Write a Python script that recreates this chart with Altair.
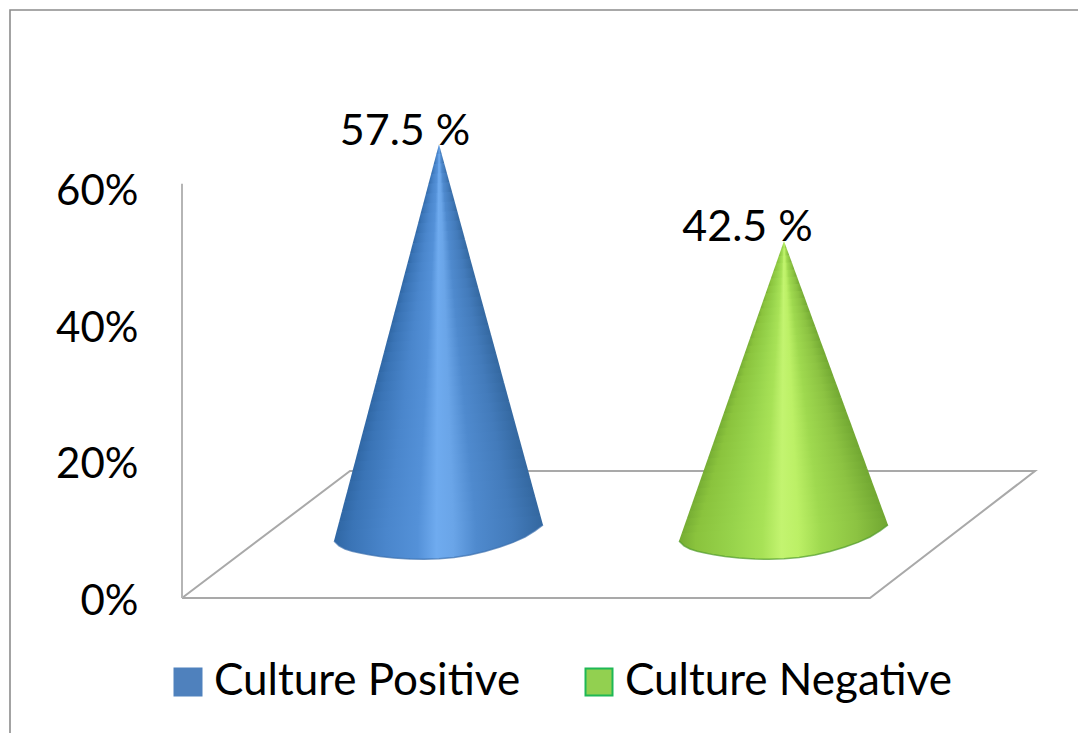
import altair as alt
import pandas as pd

# chart values
categories = ["Culture Positive", "Culture Negative"]
values = [57.5, 42.5]
value_labels = ["57.5 %", "42.5 %"]
tick_values = [0, 20, 40, 60]
series_colors = ["#4f81bd", "#92d050"]
series_strokes = ["#4f81bd", "#1fb855"]

# 3D scene (x in plot units, y in percent)
cone_x = [257, 602]
cone_tip = [66.5, 52.3]
cone_floor = [8.9, 8.9]
arc_dx = [-105, -100, -94, -87, -79, -70, -59, -45, -29, -15, 0, 15, 31, 46, 61, 74, 86, 96, 104]
arc_dy = [-0.55, -1.25, -1.72, -2.05, -2.31, -2.58, -2.82, -3.03, -3.19, -3.22, -3.15, -2.95, -2.6,
          -2.1, -1.43, -0.75, 0.04, 0.95, 1.8]
floor_x = [0, 688, 853, 168, 0]
floor_y = [0, 0, 18.6, 18.6, 0]
wall_y = [0, 60.7]
frame_x = [-172, -172, 896]
frame_y = [-20, 86.15, 86.15]
label_x = [223, 565.5]
label_y = [66.4, 52.3]

blue_stops = [(0, "#2f66a3"), (0.08, "#3a74b6"), (0.25, "#4a86cc"), (0.4, "#5491d8"), (0.49, "#6fabef"),
              (0.57, "#6aa5e8"), (0.68, "#4f8ace"), (0.85, "#437bbb"), (1, "#33679f")]
green_stops = [(0, "#74ab33"), (0.08, "#8ac33d"), (0.25, "#97d34b"), (0.4, "#a8e257"), (0.49, "#c3f470"),
               (0.57, "#bcf066"), (0.68, "#9fd94f"), (0.85, "#8cc342"), (1, "#70a631")]
BANDS = 40

W, H = 860, 590
PX = 6.825
x_scale = alt.Scale(domain=[0, W], nice=False, zero=False)
y_scale = alt.Scale(domain=[0, H / PX], nice=False, zero=False)
X = alt.X("x:Q", scale=x_scale, axis=None)
Y = alt.Y("y:Q", scale=y_scale, stack=None, title=None,
          axis=alt.Axis(values=tick_values, labelExpr="datum.value + '%'", grid=False, domain=False,
                        ticks=False, labelFontSize=42, labelFont="Lato", labelColor="#000000",
                        labelPadding=44, labelOffset=3, labelFlush=False, labelOverlap=False))


def polyline(xs, ys):
    return pd.DataFrame({"x": xs, "y": ys, "i": range(len(xs))})


frame = alt.Chart(polyline(frame_x, frame_y)).mark_line(color="#8c8c8c", strokeWidth=1.6).encode(x=X, y=Y, order="i:Q")
floor = alt.Chart(polyline(floor_x, floor_y)).mark_line(color="#a9a9a9", strokeWidth=2).encode(x=X, y=Y, order="i:Q")
wall = alt.Chart(polyline([0, 0], wall_y)).mark_line(color="#b5b5b5", strokeWidth=2).encode(x=X, y=Y, order="i:Q")


def cone_layers(k, stops, rim):
    cx, tip, base = cone_x[k], cone_tip[k], cone_floor[k]
    lx, ly = arc_dx[0], base + arc_dy[0]
    rx, ry = arc_dx[-1], base + arc_dy[-1]
    grad = alt.Gradient(gradient="linear", x1=0, x2=1, y1=0, y2=0,
                        stops=[alt.GradientStop(offset=o, color=c) for o, c in stops])

    def corners(t):
        return (lx * t, tip + (ly - tip) * t, rx * t, tip + (ry - tip) * t)

    def chord(t, dx):
        a, b, c, d = corners(t)
        return b + (d - b) * (dx - a) / (c - a)

    def edge(dx):
        return tip + (ly - tip) * dx / lx if dx < 0 else tip + (ry - tip) * dx / rx

    layers = []
    for b in range(BANDS):
        t0, t1 = b / BANDS, (b + 1) / BANDS
        a0, _, c0, _ = corners(t0)
        if b == BANDS - 1:
            xs = sorted(set([a0, c0] + [d for d in arc_dx]))
            arc = dict(zip(arc_dx, arc_dy))
            rows = []
            for d in xs:
                if d in arc:
                    low = base + arc[d]
                else:
                    j = next(i for i in range(len(arc_dx) - 1) if arc_dx[i] <= d <= arc_dx[i + 1])
                    f = (d - arc_dx[j]) / (arc_dx[j + 1] - arc_dx[j])
                    low = base + arc_dy[j] + (arc_dy[j + 1] - arc_dy[j]) * f
                top = chord(t0, d) if a0 <= d <= c0 else edge(d)
                rows.append({"x": cx + d, "y": top, "y2": low})
        else:
            a1, b1, c1, d1 = corners(t1)
            rows = [{"x": cx + a1, "y": b1, "y2": b1},
                    {"x": cx + a0, "y": edge(a0) if a0 else tip, "y2": chord(t1, a0) - 0.25},
                    {"x": cx + c0, "y": edge(c0) if c0 else tip, "y2": chord(t1, c0) - 0.25},
                    {"x": cx + c1, "y": d1, "y2": d1}]
        layers.append(alt.Chart(pd.DataFrame(rows)).mark_area(fill=grad, interpolate="linear").encode(
            x=X, y=Y, y2="y2:Q"))
    rim_df = pd.DataFrame({"x": [cx + d for d in arc_dx], "y": [base + d for d in arc_dy]})
    layers.append(alt.Chart(rim_df).mark_line(color=rim, strokeWidth=1.5, opacity=0.7).encode(x=X, y=Y))
    return layers


tips = pd.DataFrame({"x": label_x, "y": label_y, "label": value_labels})
labels = alt.Chart(tips).mark_text(font="Lato", fontSize=43, color="#000000", baseline="alphabetic",
                                   align="center").encode(x=X, y=Y, text="label:N")

legend_df = pd.DataFrame({"series": categories, "x": cone_x, "y": [0, 0]})
legend_layer = alt.Chart(legend_df).mark_square(size=0, opacity=1, strokeWidth=2).encode(
    x=X, y=Y,
    fill=alt.Fill("series:N", sort=categories,
                  scale=alt.Scale(domain=categories, range=series_colors),
                  legend=alt.Legend(title=None, orient="none", legendX=-16, legendY=652, direction="horizontal",
                                    columns=2, columnPadding=56, symbolType="square", symbolSize=729,
                                    symbolStrokeWidth=2, labelFontSize=44, labelFont="Lato", labelColor="#000000",
                                    labelOffset=4, labelLimit=500)),
    stroke=alt.Stroke("series:N", sort=categories, scale=alt.Scale(domain=categories, range=series_strokes)),
)

chart = alt.layer(frame, floor, wall, *cone_layers(0, blue_stops, "#3a6fae"), *cone_layers(1, green_stops, "#4f9a2a"),
                  labels, legend_layer).properties(
    width=W, height=H, background="#ffffff",
    padding={"left": 174, "top": 0, "right": 36, "bottom": 135},
    autosize=alt.AutoSizeParams(type="none"),
).configure_view(stroke=None)

chart.save("out.html", embed_options={"renderer": "svg", "actions": False})
